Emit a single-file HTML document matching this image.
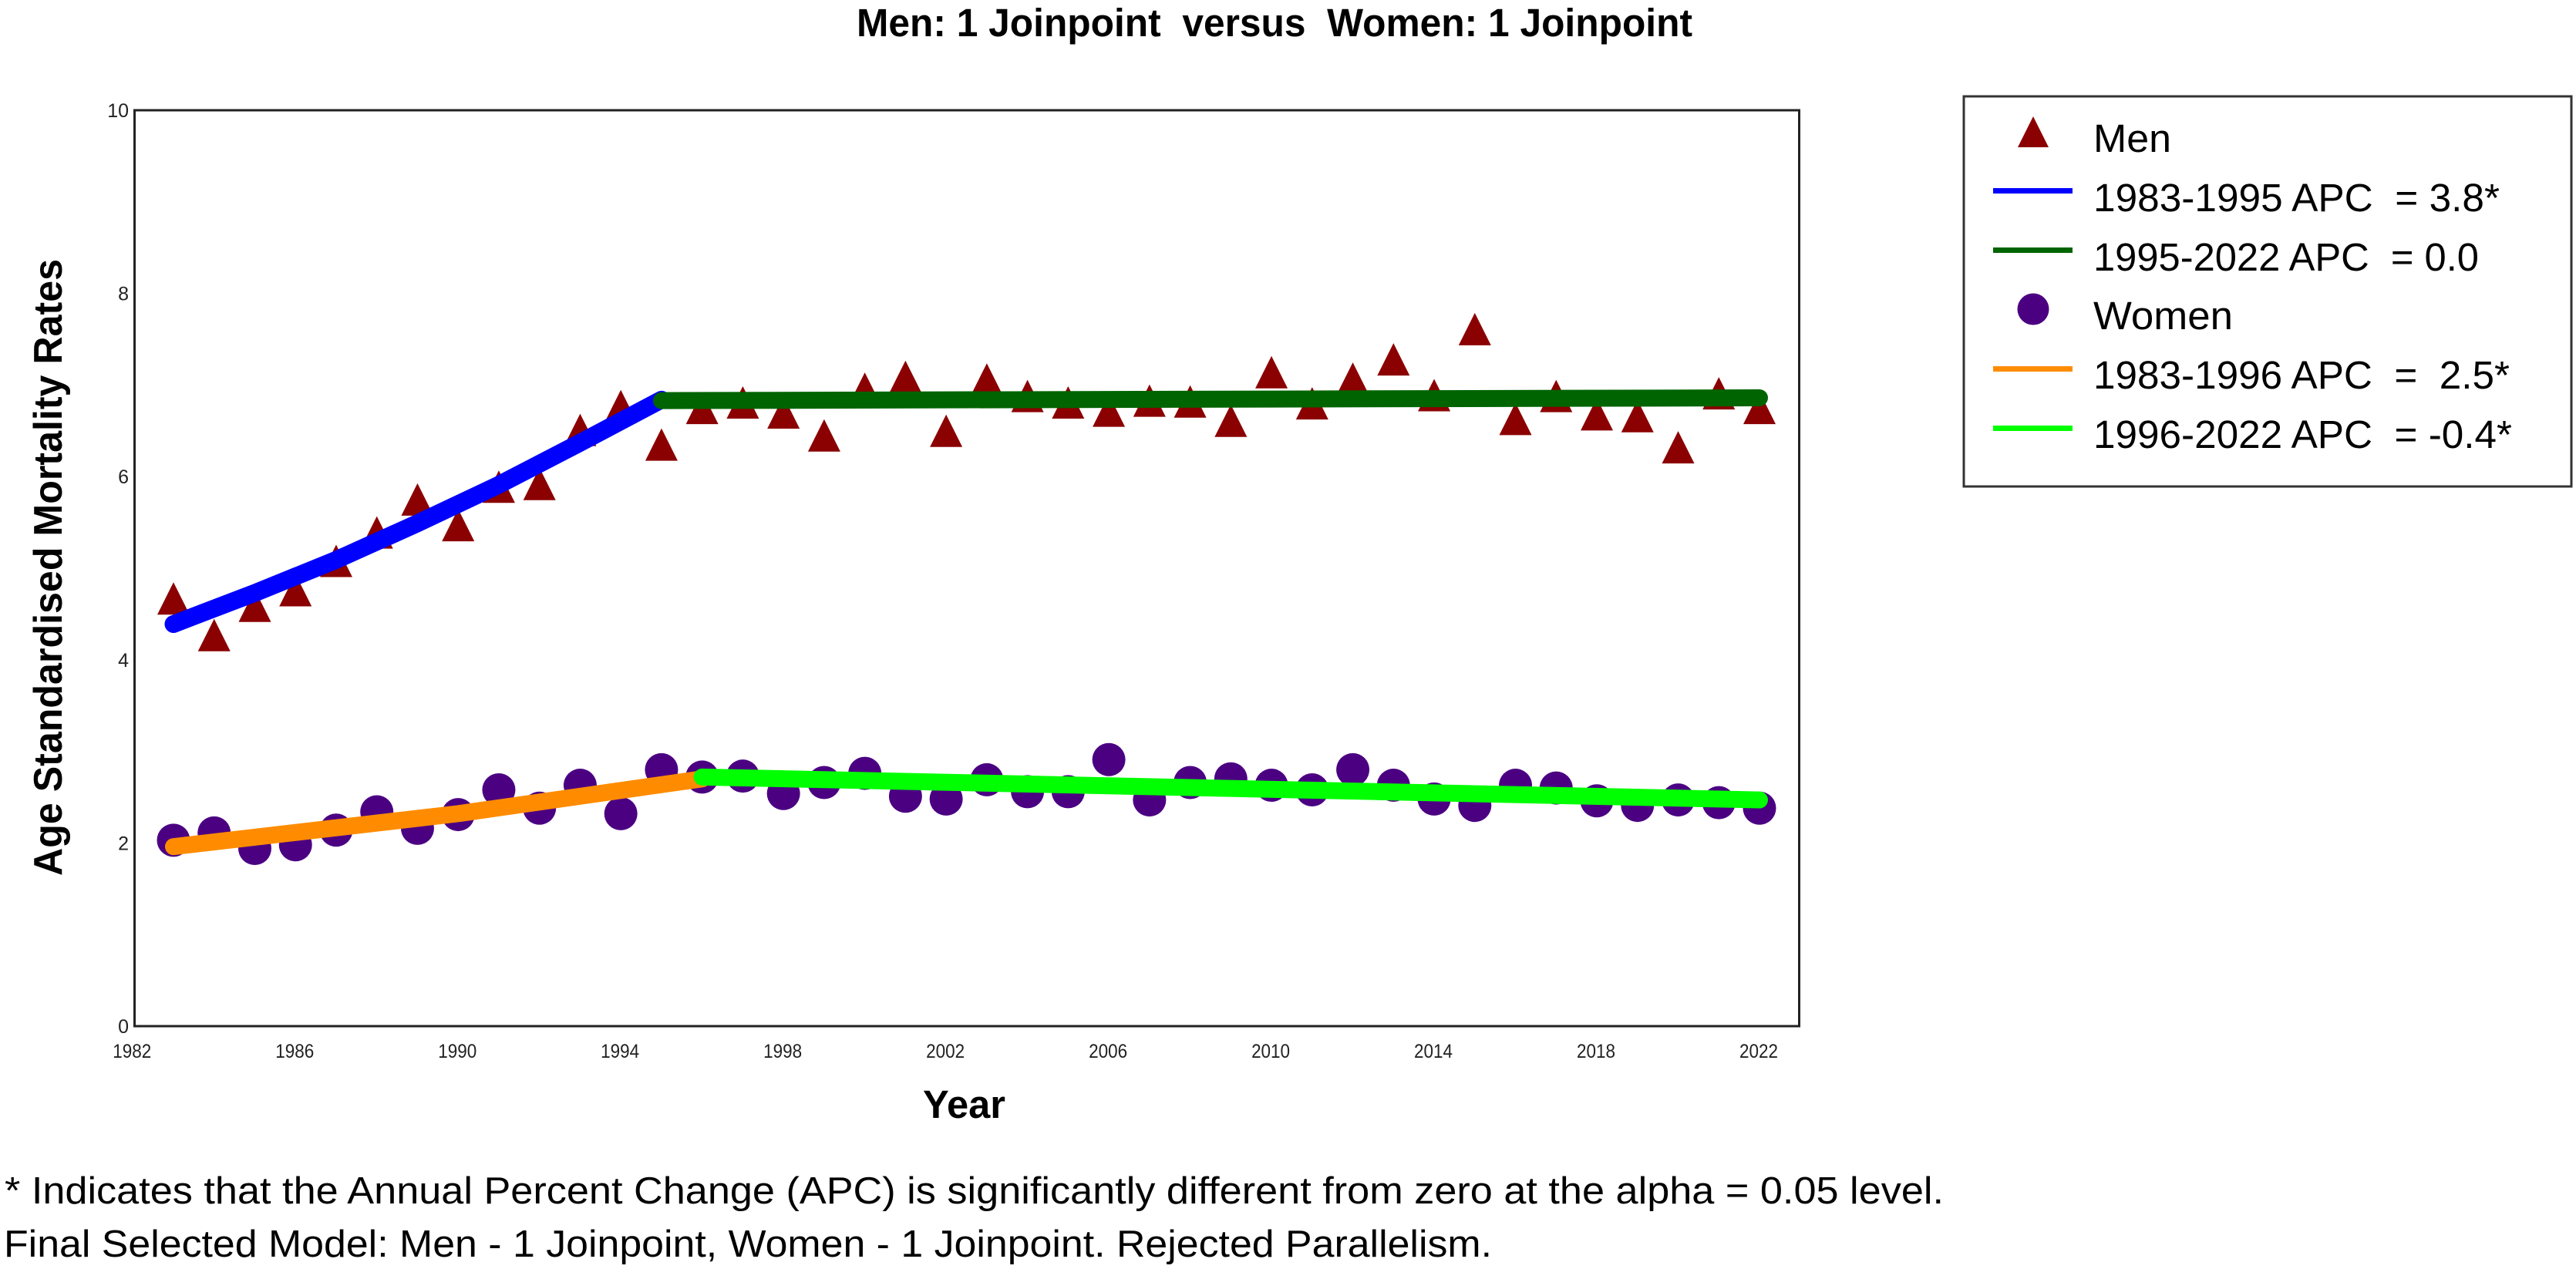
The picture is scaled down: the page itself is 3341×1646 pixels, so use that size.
<!DOCTYPE html>
<html lang="en">
<head>
<meta charset="utf-8">
<title>Men versus Women Joinpoint</title>
<style>
html,body{margin:0;padding:0;background:#fff;}
body{width:3341px;height:1646px;overflow:hidden;}
svg{display:block;}
text{font-family:"Liberation Sans",Arial,sans-serif;fill:#000;white-space:pre;}
.tick{font-size:25px;fill:#222;}
.leg{font-size:51px;}
.foot{font-size:49px;}
</style>
</head>
<body>
<svg id="chart" xmlns="http://www.w3.org/2000/svg" width="3341" height="1646" viewBox="0 0 3341 1646">
  <rect x="0" y="0" width="3341" height="1646" fill="#fff"/>
  <text x="1111" y="47" font-size="51" font-weight="700" textLength="1084" lengthAdjust="spacingAndGlyphs">Men: 1 Joinpoint  versus  Women: 1 Joinpoint</text>
  <rect x="174.5" y="143" width="2159" height="1188" fill="#fff" stroke="#222" stroke-width="3"/>
  <g id="x-ticks"></g>
  <g id="y-ticks"></g>
  <text transform="translate(80,1136) rotate(-90)" x="0" y="0" font-size="52" font-weight="700" textLength="800" lengthAdjust="spacingAndGlyphs">Age Standardised Mortality Rates</text>
  <text x="1197" y="1450" font-size="51" font-weight="700" textLength="107" lengthAdjust="spacingAndGlyphs">Year</text>
  <g id="men-points"></g>
  <g id="women-points"></g>
  <g id="trend-lines"></g>

  <g>
    <rect x="2547" y="125" width="788" height="506" fill="#fff" stroke="#333" stroke-width="3"/>
    <polygon points="2637,151 2657,191 2617,191" fill="#8b0000"/>
    <text class="leg" x="2715" y="197" textLength="101" lengthAdjust="spacingAndGlyphs">Men</text>
    <rect x="2585" y="244" width="103" height="7" fill="#0000ff"/>
    <text class="leg" x="2715" y="274" textLength="527" lengthAdjust="spacingAndGlyphs">1983-1995 APC  = 3.8*</text>
    <rect x="2585" y="321" width="103" height="7" fill="#006400"/>
    <text class="leg" x="2715" y="351" textLength="500" lengthAdjust="spacingAndGlyphs">1995-2022 APC  = 0.0</text>
    <ellipse cx="2637" cy="401" rx="20.5" ry="20.5" fill="#4b0082"/>
    <text class="leg" x="2715" y="427" textLength="181" lengthAdjust="spacingAndGlyphs">Women</text>
    <rect x="2585" y="475" width="103" height="7" fill="#ff8c00"/>
    <text class="leg" x="2715" y="504" textLength="540" lengthAdjust="spacingAndGlyphs">1983-1996 APC  =  2.5*</text>
    <rect x="2585" y="552" width="103" height="7" fill="#00ff00"/>
    <text class="leg" x="2715" y="581" textLength="543" lengthAdjust="spacingAndGlyphs">1996-2022 APC  = -0.4*</text>
  </g>

  <text class="foot" x="6" y="1561" textLength="2515" lengthAdjust="spacingAndGlyphs">* Indicates that the Annual Percent Change (APC) is significantly different from zero at the alpha = 0.05 level.</text>
  <text class="foot" x="5" y="1630" textLength="1930" lengthAdjust="spacingAndGlyphs">Final Selected Model: Men - 1 Joinpoint, Women - 1 Joinpoint. Rejected Parallelism.</text>
</svg>
<script>
const years = [1983,1984,1985,1986,1987,1988,1989,1990,1991,1992,1993,1994,1995,1996,1997,1998,1999,2000,2001,2002,2003,2004,2005,2006,2007,2008,2009,2010,2011,2012,2013,2014,2015,2016,2017,2018,2019,2020,2021,2022];
const menValues = [4.67,4.27,4.59,4.76,5.08,5.39,5.75,5.47,5.89,5.92,6.51,6.77,6.35,6.75,6.81,6.70,6.45,6.96,7.09,6.50,7.06,6.88,6.81,6.72,6.83,6.82,6.61,7.14,6.80,7.07,7.28,6.89,7.61,6.63,6.88,6.68,6.66,6.32,6.91,6.75];
const womenValues = [2.03,2.11,1.94,1.98,2.14,2.34,2.16,2.31,2.58,2.38,2.63,2.32,2.80,2.72,2.73,2.54,2.66,2.76,2.51,2.48,2.69,2.56,2.56,2.91,2.47,2.66,2.70,2.63,2.58,2.80,2.63,2.48,2.41,2.63,2.60,2.46,2.41,2.47,2.44,2.38];
const menTrend1Years = [1983,1985,1987,1989,1991,1993,1995];
const menTrend1Values = [4.39,4.73,5.09,5.49,5.91,6.37,6.84];
const menTrend2Years = [1995,2022];
const menTrend2Values = [6.83,6.86];
const womenTrend1Years = [1983,1990,1996];
const womenTrend1Values = [1.96,2.32,2.70];
const womenTrend2Years = [1996,2022];
const womenTrend2Values = [2.72,2.47];
const xTickLabels = [1982,1986,1990,1994,1998,2002,2006,2010,2014,2018,2022];
const yTickLabels = [0,2,4,6,8,10];

const SVG_NS = 'http://www.w3.org/2000/svg';
function sx(year){ return 225 + (year - 1983) * (2282 - 225) / 39; }
function sy(value){ return 1331 - value * 118.8; }
function make(tag, attrs, parent){
  const el = document.createElementNS(SVG_NS, tag);
  for (const k in attrs) el.setAttribute(k, attrs[k]);
  parent.appendChild(el);
  return el;
}

const xTicksGroup = document.getElementById('x-ticks');
xTickLabels.forEach(function(t){
  const el = make('text', {class:'tick', x: sx(t) - 1, y: 1372, 'text-anchor':'middle', textLength: 50, lengthAdjust:'spacingAndGlyphs'}, xTicksGroup);
  
  
  el.textContent = t;
});

const yTicksGroup = document.getElementById('y-ticks');
yTickLabels.forEach(function(t){
  const el = make('text', {class:'tick', x: 167, y: sy(t) + 9, 'text-anchor':'end'}, yTicksGroup);
  
  
  el.textContent = t;
});

const menGroup = document.getElementById('men-points');
years.forEach(function(yr, i){
  const cx = sx(yr), cy = sy(menValues[i]);
  const el = make('polygon', {points: cx + ',' + (cy - 21) + ' ' + (cx + 21) + ',' + (cy + 21) + ' ' + (cx - 21) + ',' + (cy + 21), fill:'#8b0000'}, menGroup);
  
  
});

const womenGroup = document.getElementById('women-points');
years.forEach(function(yr, i){
  const el = make('ellipse', {cx: sx(yr), cy: sy(womenValues[i]), rx: 21.5, ry: 21.5, fill:'#4b0082'}, womenGroup);
  
  
});

function trendPoints(xs, ys){
  return xs.map(function(x, i){ return sx(x) + ',' + sy(ys[i]); }).join(' ');
}
const trendGroup = document.getElementById('trend-lines');

const lineMen1 = make('polyline', {points: trendPoints(menTrend1Years, menTrend1Values), fill:'none', stroke:'#0000ff', 'stroke-width':23, 'stroke-linecap':'round', 'stroke-linejoin':'round'}, trendGroup);



const lineMen2 = make('polyline', {points: trendPoints(menTrend2Years, menTrend2Values), fill:'none', stroke:'#006400', 'stroke-width':22, 'stroke-linecap':'round', 'stroke-linejoin':'round'}, trendGroup);



const lineWomen1 = make('polyline', {points: trendPoints(womenTrend1Years, womenTrend1Values), fill:'none', stroke:'#ff8c00', 'stroke-width':22, 'stroke-linecap':'round', 'stroke-linejoin':'round'}, trendGroup);



const lineWomen2 = make('polyline', {points: trendPoints(womenTrend2Years, womenTrend2Values), fill:'none', stroke:'#00ff00', 'stroke-width':22, 'stroke-linecap':'round', 'stroke-linejoin':'round'}, trendGroup);


</script>
</body>
</html>
